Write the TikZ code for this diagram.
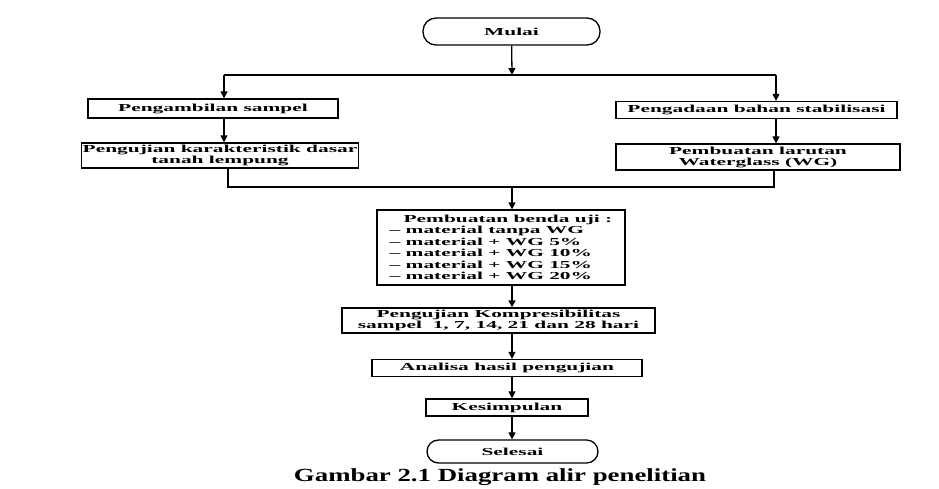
\documentclass[tikz,border=0pt]{standalone}
\usepackage{fontspec}
\setmainfont{Liberation Serif}
\newfontfamily\boxfont{Liberation Serif}[FakeStretch=2.0]
\newfontfamily\capfont{Liberation Serif}[FakeStretch=1.45]
\usetikzlibrary{arrows.meta}
\begin{document}
\begin{tikzpicture}[x=1pt,y=-1pt,
  line width=1.3pt,
  txt/.style={font=\boxfont\bfseries\fontsize{10.7}{11}\selectfont},
  box/.style={txt,draw,rectangle,inner sep=1pt,align=center},
  term/.style={txt,draw,rectangle,rounded corners=11pt,inner sep=1pt},
  arr/.style={-{Triangle[length=7pt,width=7pt]}}]
\useasboundingbox (0,0) rectangle (939,488);

\node[term,minimum width=177pt,minimum height=27pt,rounded corners=13pt] (mulai) at (511.5,31.5) {Mulai};

\node[box,minimum width=250pt,minimum height=19pt] (b1) at (213,108.5) {Pengambilan sampel};
\node[box,minimum width=276pt,minimum height=25pt] (b2) at (220,155.5) {Pengujian karakteristik dasar\\tanah lempung};
\node[box,minimum width=281pt,minimum height=17pt] (b3) at (756.5,110) {Pengadaan bahan stabilisasi};
\node[box,minimum width=284pt,minimum height=26pt] (b4) at (758,157) {Pembuatan larutan\\Waterglass (WG)};

\node[box,minimum width=248pt,minimum height=75pt,align=left,font=\boxfont\bfseries\fontsize{10.7}{11.5}\selectfont] (b5) at (501,247.5)
  {\hspace*{14pt}Pembuatan benda uji :\\
   – material tanpa WG\\
   – material + WG 5\%\\
   – material + WG 10\%\\
   – material + WG 15\%\\
   – material + WG 20\%};

\node[box,minimum width=313pt,minimum height=25pt] (b6) at (498.5,320.5) {Pengujian Kompresibilitas\\sampel\ \ 1, 7, 14, 21 dan 28 hari};
\node[box,minimum width=270pt,minimum height=17pt] (b7) at (507,368) {Analisa hasil pengujian};
\node[box,minimum width=162pt,minimum height=17pt] (b8) at (507,407.5) {Kesimpulan};
\node[term,minimum width=171pt,minimum height=23pt,rounded corners=11.5pt] (selesai) at (512.5,451.5) {Selesai};

\node[font=\capfont\bfseries\fontsize{18.5}{20}\selectfont,inner sep=0pt,anchor=base] (cap) at (500,481) {Gambar 2.1 Diagram alir penelitian};

% coordinates
\coordinate (split) at (512,75);
\coordinate (L) at (224,75);
\coordinate (R) at (776,75);
\coordinate (ML) at (228,187);
\coordinate (MR) at (774,187);
\coordinate (M) at (512,187);

\draw[arr] (mulai) -- (split);
\draw (L) -- (R);
\draw[arr] (L) -- (L |- b1.north);
\draw[arr] (b1.south -| L) -- (b2.north -| L);
\draw[arr] (R) -- (R |- b3.north);
\draw[arr] (b3.south -| R) -- (b4.north -| R);
\draw (b2.south -| ML) -- (ML) -- (MR) -- (b4.south -| MR);
\draw[arr] (M) -- (b5.north -| M);
\draw[arr] (b5.south -| M) -- (b6.north -| M);
\draw[arr] (b6.south -| M) -- (b7.north -| M);
\draw[arr] (b7.south -| M) -- (b8.north -| M);
\draw[arr] (b8.south -| M) -- (selesai.north -| M);
\end{tikzpicture}
\end{document}
